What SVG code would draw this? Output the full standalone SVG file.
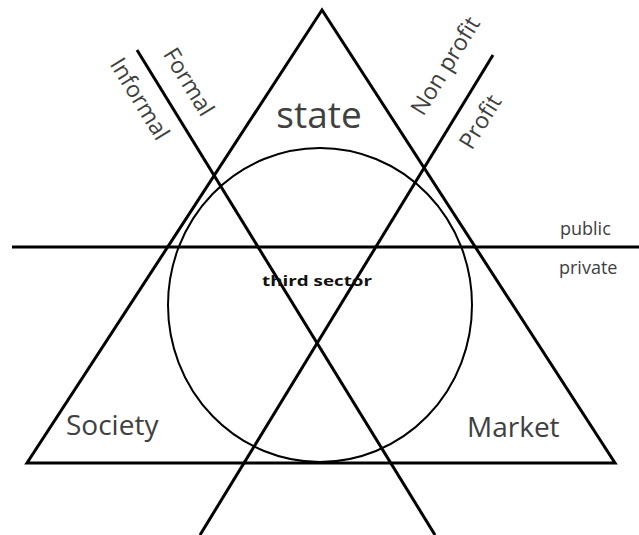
<svg xmlns="http://www.w3.org/2000/svg" width="639" height="535" viewBox="0 0 639 535">
<style>
.ln{stroke:#000;stroke-width:3;fill:none}
.thin{stroke:#000;stroke-width:2;fill:none}
.t{font-family:"Open Sans","Noto Sans",sans-serif;fill:#404040}
.r{font-size:23px;text-anchor:middle}
</style>
<rect width="639" height="535" fill="#fff"/>
<g id="connectors">
<line class="ln" x1="12" y1="247" x2="639" y2="247"/>
<line class="ln" x1="137" y1="50" x2="435" y2="535"/>
<line class="ln" x1="493" y1="55" x2="200" y2="535"/>
</g>
<g id="triangle"><polygon class="ln" points="322,10 27,463 615,463"/></g>
<g id="circle"><ellipse class="thin" cx="320" cy="305" rx="152" ry="157"/></g>
<g id="state"><text class="t" x="319" y="128" font-size="37" text-anchor="middle">state</text></g>
<g id="society"><text class="t" x="66" y="435" font-size="28">Society</text></g>
<g id="market"><text class="t" x="467" y="437" font-size="28">Market</text></g>
<g id="third"><text x="262" y="286" font-family="Open Sans,Noto Sans,sans-serif" font-size="15" font-weight="bold" fill="#111" textLength="110" lengthAdjust="spacingAndGlyphs">third sector</text></g>
<g id="public"><text class="t" x="560" y="235" font-size="18">public</text></g>
<g id="private"><text class="t" x="559" y="274" font-size="18">private</text></g>
<g id="formal"><text class="t r" transform="translate(182,86) rotate(58.5)">Formal</text></g>
<g id="informal"><text class="t r" transform="translate(133,103) rotate(58.5)">Informal</text></g>
<g id="nonprofit"><text class="t r" transform="translate(452,70) rotate(-58.5)">Non profit</text></g>
<g id="profit"><text class="t r" transform="translate(487,126) rotate(-58.5)">Profit</text></g>
</svg>
